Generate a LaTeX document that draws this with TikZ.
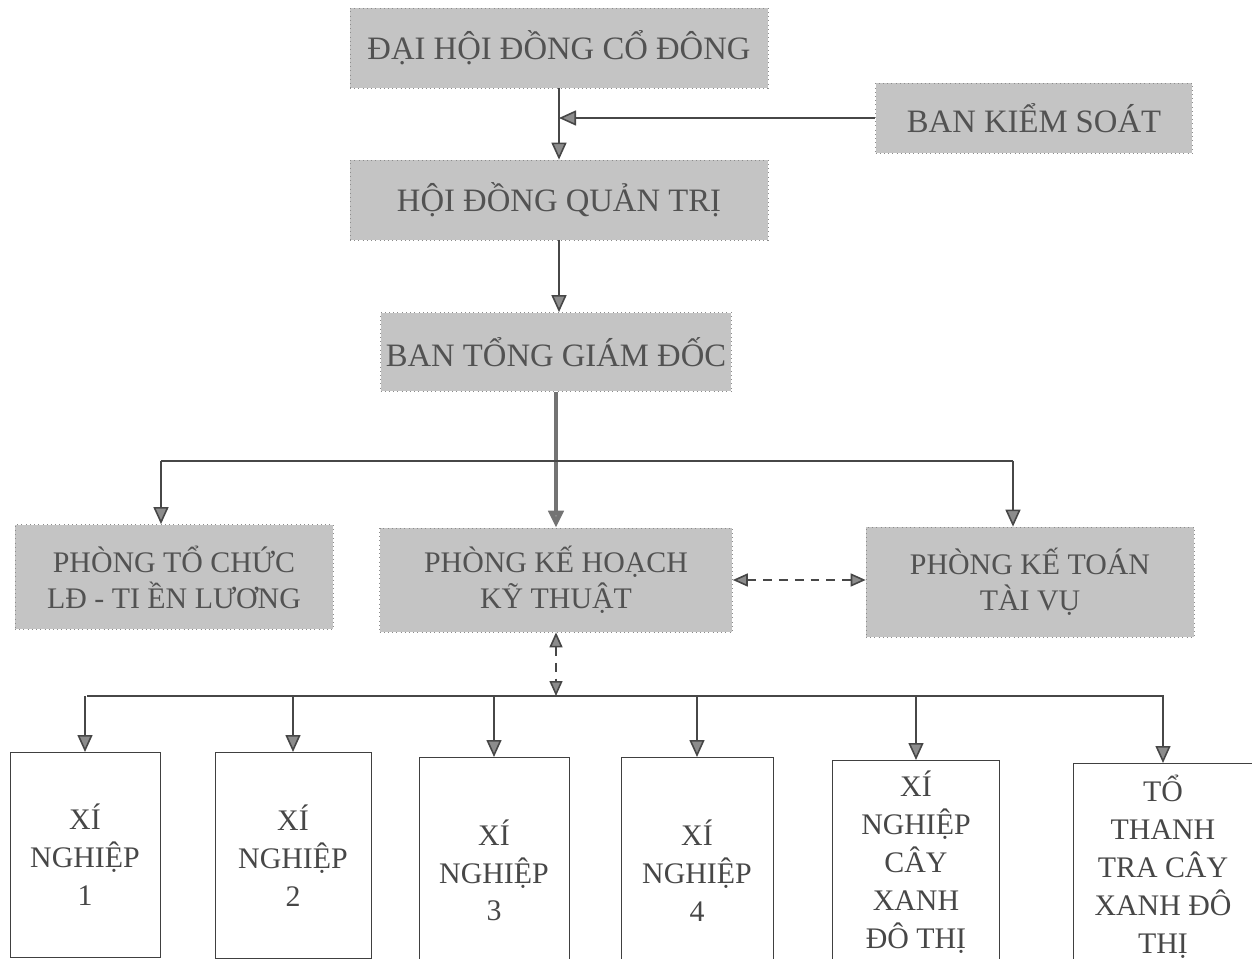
\documentclass[tikz,border=0pt]{standalone}
\usepackage{fontspec}
\setmainfont{Liberation Serif}
\usetikzlibrary{arrows.meta}

\tikzset{
  greybox/.style={draw=black!45, dotted, fill=black!23, text=black!68, align=center,
    inner sep=0pt, font=\fontsize{18.6}{21}\selectfont},
  unitbox/.style={draw=black!75, fill=white, text=black!72, align=center, anchor=north,
    inner sep=0pt, font=\fontsize{17}{21.6}\selectfont},
  link/.style={draw=black!72, line width=0.9pt},
  tip/.style={-{Triangle[length=0.34cm,width=0.3cm,fill=black!45]}},
  both tips/.style={{Triangle[length=0.3cm,width=0.26cm,fill=black!45]}-{Triangle[length=0.3cm,width=0.26cm,fill=black!45]}},
  dashlink/.style={link, dash pattern=on 5pt off 4pt}
}

\begin{document}
\begin{tikzpicture}[x=0.02cm, y=-0.02cm]
    \clip (0,0) rectangle (1252,959);

    % top levels
    \node[greybox, minimum width=8.36cm, minimum height=1.6cm] (DHCD) at (559, 48) {ĐẠI HỘI ĐỒNG CỔ ĐÔNG};
    \node[greybox, minimum width=6.34cm, minimum height=1.4cm] (BKS) at (1034, 118) {BAN KIỂM SOÁT};
    \node[greybox, minimum width=8.36cm, minimum height=1.6cm] (HDQT) at (559, 200) {HỘI ĐỒNG QUẢN TRỊ};
    \node[greybox, minimum width=7.02cm, minimum height=1.58cm] (BTGD) at (556, 352) {BAN TỔNG GIÁM ĐỐC};

    % departments
    \node[greybox, minimum width=6.36cm, minimum height=2.1cm, font=\fontsize{17}{20.5}\selectfont] (PTC) at (174, 577) {PHÒNG TỔ CHỨC\\LĐ - TI ỀN LƯƠNG};
    \node[greybox, minimum width=7.06cm, minimum height=2.08cm, font=\fontsize{17}{20.5}\selectfont] (PKH) at (556, 580) {PHÒNG KẾ HOẠCH\\KỸ THUẬT};
    \node[greybox, minimum width=6.56cm, minimum height=2.2cm, font=\fontsize{17}{20.5}\selectfont] (PKT) at (1030, 582) {PHÒNG KẾ TOÁN\\TÀI VỤ};

    % units
    \node[unitbox, minimum width=3.0cm, minimum height=4.1cm] (XN1) at (85, 752) {XÍ\\NGHIỆP\\1};
    \node[unitbox, minimum width=3.12cm, minimum height=4.12cm] (XN2) at (293, 752) {XÍ\\NGHIỆP\\2};
    \node[unitbox, minimum width=3.0cm, minimum height=4.52cm] (XN3) at (494, 757) {XÍ\\NGHIỆP\\3};
    \node[unitbox, minimum width=3.04cm, minimum height=4.52cm] (XN4) at (697, 757) {XÍ\\NGHIỆP\\4};
    \node[unitbox, minimum width=3.34cm, minimum height=4.08cm] (XNCX) at (916, 760) {XÍ\\NGHIỆP\\CÂY\\XANH\\ĐÔ THỊ};
    \node[unitbox, minimum width=3.6cm, minimum height=4.12cm] (TTCX) at (1163, 763) {TỔ\\THANH\\TRA CÂY\\XANH ĐÔ\\THỊ};

    \coordinate (brL) at (161, 461);
    \coordinate (brR) at (1013, 461);
    \coordinate (busL) at (87, 696);
    \coordinate (busR) at (1164, 696);

    \draw[link, tip] (DHCD.south) -- (HDQT.north);
    \draw[link, tip] (BKS.west) -- (BKS.west -| DHCD.south);
    \draw[link, tip] (HDQT.south) -- (HDQT.south |- BTGD.north);
    \draw[link, tip, draw=black!55, line width=2.4pt] (BTGD.south) -- (PKH.north);

    \draw[link] (brL) -- (brR);
    \draw[link, tip] (brL) -- (brL |- PTC.north);
    \draw[link, tip] (brR) -- (brR |- PKT.north);

    \draw[dashlink, both tips] (PKH.east) -- (PKH.east -| PKT.west);
    \draw[dashlink, both tips] (PKH.south) -- (PKH.south |- busL);

    \draw[link] (busL) -- (busR);
    \foreach \u in {XN1, XN2, XN3, XN4, XNCX, TTCX}
      \draw[link, tip] (\u.north |- busL) -- (\u.north);
  \end{tikzpicture}
\end{document}
